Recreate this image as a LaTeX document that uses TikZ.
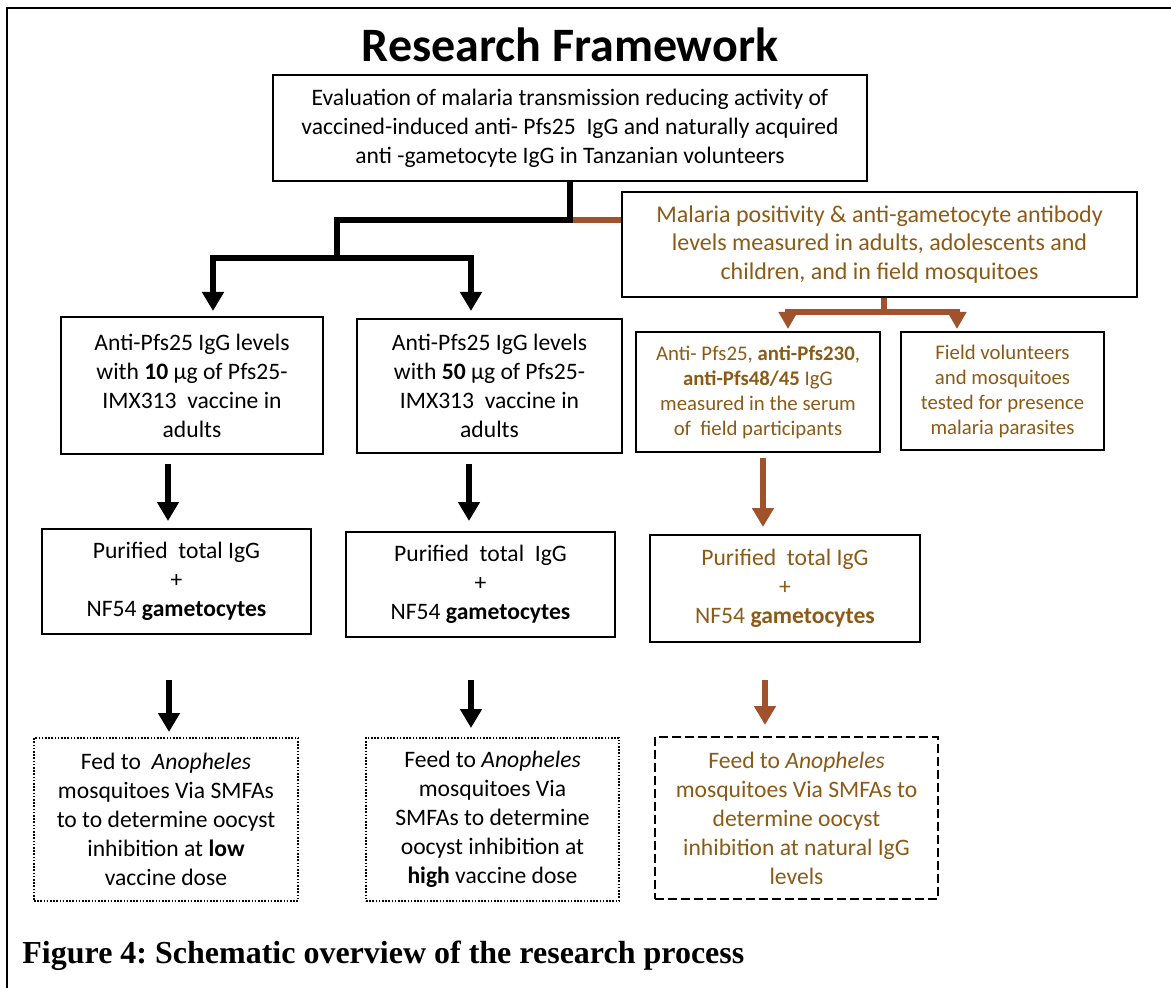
\documentclass[tikz,border=0pt]{standalone}
\usepackage{fontspec}
\setmainfont{Carlito}
\newfontfamily\capfont{Liberation Serif}
\usetikzlibrary{arrows.meta, calc}
\definecolor{brtext}{RGB}{139,90,23}
\definecolor{brline}{RGB}{160,82,45}
\frenchspacing

\begin{document}
\begin{tikzpicture}[x=0.5pt, y=-0.5pt, >={Triangle[width=10.5pt,length=9.5pt]},
  box/.style={draw, line width=1pt, align=center, inner sep=0pt, font=\fontsize{11.8}{14.5}\selectfont},
  sbox/.style={box, text=brtext, font=\fontsize{10.4}{12.5}\selectfont},
  dotbox/.style={box, dash pattern=on 0.8pt off 0.8pt},
  dashbox/.style={box, dash pattern=on 4.5pt off 2pt},
  blk/.style={line width=3pt},
  brn/.style={line width=3pt, color=brline}]
\useasboundingbox (0,0) rectangle (1171,988);
\draw[line width=1pt] (7,988) -- (7,8) -- (1171,8);
\node[font=\fontsize{24}{28}\selectfont\bfseries] (ttl) at (570,45) {Research Framework};

% boxes
\node[box, minimum width=297pt, minimum height=53pt] (top) at (570,128)
  {Evaluation of malaria transmission reducing activity of\\ vaccined-induced anti- Pfs25\ \ IgG and naturally acquired\\ anti -gametocyte IgG in Tanzanian volunteers};
\node[box, text=brtext, font=\fontsize{12}{14.3}\selectfont, minimum width=257.5pt, minimum height=52.5pt] (fld) at (879.5,244.5)
  {Malaria positivity \& anti-gametocyte antibody\\ levels measured in adults, adolescents and\\ children, and in field mosquitoes};
\node[box, minimum width=131pt, minimum height=68.5pt] (lo) at (192,385.5)
  {Anti-Pfs25 IgG levels\\ with \textbf{10} µg of Pfs25-\\ IMX313\ \ vaccine in\\ adults};
\node[box, minimum width=132.5pt, minimum height=67pt] (hi) at (489.5,386)
  {Anti-Pfs25 IgG levels\\ with \textbf{50} µg of Pfs25-\\ IMX313\ \ vaccine in\\ adults};
\node[sbox, minimum width=122pt, minimum height=60pt] (ab) at (758,392)
  {Anti- Pfs25, \textbf{anti-Pfs230},\\ \textbf{anti-Pfs48/45} IgG\\ measured in the serum\\ of\ \ field participants};
\node[sbox, minimum width=101.5pt, minimum height=59pt] (par) at (1002.5,391)
  {Field volunteers\\ and mosquitoes\\ tested for presence\\ malaria parasites};
\node[box, minimum width=134.5pt, minimum height=52.5pt] (pu1) at (176.5,581.5)
  {Purified\ \ total IgG\\ +\\ NF54 \textbf{gametocytes}};
\node[box, minimum width=134.5pt, minimum height=52.5pt] (pu2) at (480.5,584.5)
  {Purified\ \ total\ \ IgG\\ +\\ NF54 \textbf{gametocytes}};
\node[box, text=brtext, minimum width=135pt, minimum height=53.5pt] (pu3) at (785,588.5)
  {Purified\ \ total IgG\\ +\\ NF54 \textbf{gametocytes}};
\node[dotbox, minimum width=132pt, minimum height=81.5pt] (fd1) at (166,819.5)
  {Fed to\ \ \textit{Anopheles}\\ mosquitoes Via SMFAs\\ to to determine oocyst\\ inhibition at \textbf{low}\\ vaccine dose};
\node[dotbox, minimum width=126.5pt, minimum height=81.5pt] (fd2) at (492.5,819.5)
  {Feed to \textit{Anopheles}\\ mosquitoes Via\\ SMFAs to determine\\ oocyst inhibition at\\ \textbf{high} vaccine dose};
\node[dashbox, text=brtext, minimum width=141.5pt, minimum height=81pt] (fd3) at (796.5,818)
  {Feed to \textit{Anopheles}\\ mosquitoes Via SMFAs to\\ determine oocyst\\ inhibition at natural IgG\\ levels};

% tree from the top box
\coordinate (j0) at (570,220);
\coordinate (j1) at (337,258);
\coordinate (j2) at (884,312);
\draw[brn] (j0) -- (j0 -| fld.west);
\draw[blk] (top.south) -- (j0) -| (j1);
\draw[blk,->,shorten >=2.5pt] (j1) -| (lo.north -| 213,0);
\draw[blk,->,shorten >=3.5pt] (j1) -| (hi.north -| 471,0);
\draw[brn] (fld.south -| j2) -- (j2);
\draw[brn,->,>={Triangle[width=9pt,length=8.5pt]},shorten >=1pt] (j2) -| (ab.north -| 788,0);
\draw[brn,->,>={Triangle[width=9pt,length=8.5pt]},shorten >=1pt] (j2) -| (par.north -| 957,0);

% columns
\draw[blk,->,shorten <=4.5pt,shorten >=3.5pt] (lo.south -| 168,0) -- (pu1.north -| 168,0);
\draw[blk,->,shorten <=5pt,shorten >=5pt] (hi.south -| 469,0) -- (pu2.north -| 469,0);
\draw[brn,->,shorten <=2.5pt,shorten >=3.5pt] (ab.south -| 763,0) -- (pu3.north -| 763,0);
\draw[blk,->,shorten <=22.5pt,shorten >=2.5pt] (pu1.south -| 169,0) -- (fd1.north -| 169,0);
\draw[blk,->,shorten <=21pt,shorten >=4.5pt] (pu2.south -| 471,0) -- (fd2.north -| 471,0);
\draw[brn,->,shorten <=18.5pt,shorten >=5.5pt] (pu3.south -| 765,0) -- (fd3.north -| 765,0);

\node[anchor=base west, inner sep=0pt, font=\capfont\bfseries\fontsize{16}{19}\selectfont] (cap) at (22,963)
  {Figure 4: Schematic overview of the research process};
\end{tikzpicture}
\end{document}
